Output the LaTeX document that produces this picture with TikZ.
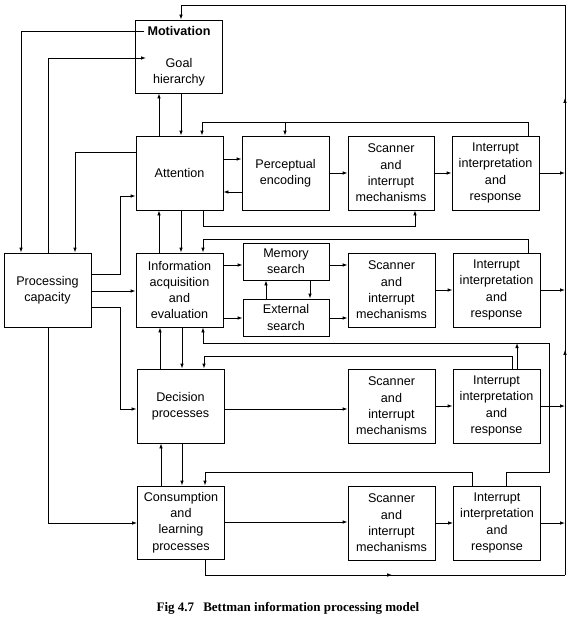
\documentclass[tikz,border=0pt]{standalone}
\usepackage{fontspec}
\setmainfont{Liberation Sans}
\newfontfamily\capfont{Liberation Serif}
\usetikzlibrary{arrows.meta,decorations.markings}
\begin{document}
\begin{tikzpicture}[x=1pt,y=-1pt,
  box/.style={draw,line width=0.9pt,minimum width=87pt,minimum height=74pt,inner sep=0pt,align=center,font=\fontsize{12.6}{16.3}\selectfont},
  sbox/.style={box,minimum width=86pt,minimum height=37pt},
  txt/.style={inner sep=3pt,align=center,font=\fontsize{12.6}{16.3}\selectfont},
  line/.style={line width=0.9pt},
  conn/.style={line width=0.9pt,-{Latex[length=5pt,width=3.6pt]}},
  busarrows/.style={line width=0.9pt,postaction={decorate},decoration={markings,
     mark=at position 0.395 with {\arrow{Latex[length=5pt,width=3.6pt]}},
     mark=at position 0.837 with {\arrow{Latex[length=5pt,width=3.6pt]}}}},
  botarrow/.style={line width=0.9pt,postaction={decorate},decoration={markings,
     mark=at position 0.52 with {\arrow{Latex[length=5pt,width=3.6pt]}}}},
]
\useasboundingbox (0,0) rectangle (576,626);

% boxes
\node[box,minimum height=73pt] (mot) at (179,56.5) {};
\node[txt,font=\bfseries\fontsize{12.6}{16.3}\selectfont] (motl) at (179,31) {Motivation};
\node[txt] (goal) at (179,72) {Goal\\hierarchy};
\node[box] (att) at (179.5,173) {Attention};
\node[box] (perc) at (285.5,173) {Perceptual\\encoding};
\node[box,minimum width=86pt] (scan1) at (391,173) {Scanner\\and\\interrupt\\mechanisms};
\node[box] (int1) at (495.5,173) {Interrupt\\interpretation\\and\\response};
\node[box] (pc) at (47.5,290) {Processing\\capacity};
\node[box] (info) at (179.5,290) {Information\\acquisition\\and\\evaluation};
\node[sbox] (mem) at (286,261.5) {Memory\\search};
\node[sbox] (ext) at (286,317.5) {External\\search};
\node[box] (scan2) at (391.5,290) {Scanner\\and\\interrupt\\mechanisms};
\node[box] (int2) at (496.5,290) {Interrupt\\interpretation\\and\\response};
\node[box] (dec) at (180.5,406) {Decision\\processes};
\node[box] (scan3) at (391.5,406) {Scanner\\and\\interrupt\\mechanisms};
\node[box] (int3) at (496.5,406) {Interrupt\\interpretation\\and\\response};
\node[box,minimum height=73pt] (con) at (181,522.5) {Consumption\\and\\learning\\processes};
\node[box] (scan4) at (391.5,523) {Scanner\\and\\interrupt\\mechanisms};
\node[box] (int4) at (497,523) {Interrupt\\interpretation\\and\\response};

\node[font=\capfont\bfseries\fontsize{13}{15}\selectfont] (cap) at (288,608) {Fig 4.7\hspace{0.7em}Bettman information processing model};

% right bus
\coordinate (busB) at (565,575);
\coordinate (busT) at (565,5);
\coordinate (goalin) at (146,58);
\draw[line] (205,0 |- con.south) -- (205,575);
\draw[botarrow] (205,575) -- (busB);
\draw[busarrows] (busB) -- (busT);
\draw[conn] (busT) -- (181,5) -- (181,0 |- mot.north);
\draw[conn] (int1.east) -- (int1.east -| busB);
\draw[conn] (int2.east) -- (int2.east -| busB);
\draw[conn] (int3.east) -- (int3.east -| busB);
\draw[conn] (int4.east) -- (int4.east -| busB);

% motivation <-> attention
\draw[conn] (181,0 |- mot.south) -- (181,0 |- att.north);
\draw[conn] (159,0 |- att.north) -- (159,0 |- mot.south);

% row 1
\draw[conn] (528,0 |- int1.north) -- (528,122) -- (202,122) -- (202,0 |- att.north);
\draw[conn] (285,122) -- (285,0 |- perc.north);
\draw[conn] (att.east |- 0,159) -- (perc.west |- 0,159);
\draw[conn] (perc.west |- 0,192) -- (att.east |- 0,192);
\draw[conn] (perc) -- (scan1);
\draw[conn] (scan1) -- (int1);
\draw[conn] (203,0 |- att.south) -- (203,226) -- (415,226) -- (415,0 |- scan1.south);

% left side
\draw[conn] (motl.west) -- (21,31) -- (21,0 |- pc.north);
\draw[conn] (48,0 |- pc.north) -- (48,58) -- (goalin);
\draw[conn] (att.west |- 0,152) -- (75,152) -- (75,0 |- pc.north);
\draw[conn] (pc.east |- 0,274) -- (120,274) -- (120,196) -- (att.west |- 0,196);
\draw[conn] (pc.east |- 0,291) -- (info.west |- 0,291);
\draw[conn] (pc.east |- 0,307) -- (120,307) -- (120,409) -- (dec.west |- 0,409);
\draw[conn] (48,0 |- pc.south) -- (48,523) -- (con.west |- 0,523);

% attention <-> info
\draw[conn] (181,0 |- att.south) -- (181,0 |- info.north);
\draw[conn] (159,0 |- info.north) -- (159,0 |- att.south);

% row 2
\draw[conn] (528,0 |- int2.north) -- (528,239) -- (203,239) -- (203,0 |- info.north);
\draw[conn] (info.east |- 0,265) -- (mem.west |- 0,265);
\draw[conn] (info.east |- 0,318) -- (ext.west |- 0,318);
\draw[conn] (266,0 |- ext.north) -- (266,0 |- mem.south);
\draw[conn] (310,0 |- mem.south) -- (310,0 |- ext.north);
\draw[conn] (mem.east |- 0,265) -- (scan2.west |- 0,265);
\draw[conn] (ext.east |- 0,318) -- (scan2.west |- 0,318);
\draw[conn] (scan2) -- (int2);

% loop back to info
\draw[conn] (506,0 |- int4.north) -- (506,472) -- (549,472) -- (549,343) -- (203,343) -- (203,0 |- info.south);
\draw[conn] (517,0 |- int3.north) -- (517,343);

% info <-> decision
\draw[conn] (182,0 |- info.south) -- (182,0 |- dec.north);
\draw[conn] (160,0 |- dec.north) -- (160,0 |- info.south);

% row 3
\draw[conn] (512,0 |- int3.north) -- (512,356) -- (204,356) -- (204,0 |- dec.north);
\draw[conn] (dec.east |- 0,409) -- (scan3.west |- 0,409);
\draw[conn] (scan3) -- (int3);

% decision <-> consumption
\draw[conn] (182,0 |- dec.south) -- (182,0 |- con.north);
\draw[conn] (161,0 |- con.north) -- (161,0 |- dec.south);

% row 4
\draw[conn] (472,0 |- int4.north) -- (472,472) -- (205,472) -- (205,0 |- con.north);
\draw[conn] (con.east |- 0,522) -- (scan4.west |- 0,522);
\draw[conn] (scan4) -- (int4);
\end{tikzpicture}
\end{document}
